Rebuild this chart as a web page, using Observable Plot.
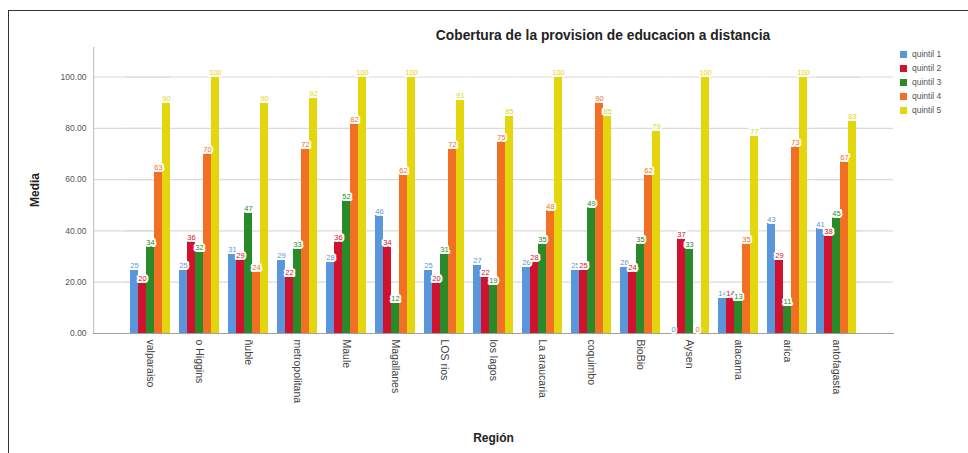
<!DOCTYPE html>
<html>
<head>
<meta charset="utf-8">
<script src="https://cdn.jsdelivr.net/npm/d3@7"></script>
<script src="https://cdn.jsdelivr.net/npm/@observablehq/plot@0.6"></script>
<style>
  body { margin: 0; background: #fff; font-family: "Liberation Sans", Arial, sans-serif; }
  #chart { position: relative; width: 968px; height: 453px; overflow: hidden; background: #fff; }
  #chart svg { position: absolute; left: 0; top: 0; }
  .edge-top { position: absolute; left: 8px; top: 10px; width: 960px; border-top: 1.5px solid #333; }
  .edge-left { position: absolute; left: 8px; top: 10px; height: 443px; border-left: 1.5px solid #333; }
  #title { position: absolute; left: 603px; top: 28px; transform: translateX(-50%); white-space: nowrap;
           font-weight: bold; font-size: 13.8px; color: #222; }
  #ylabel { position: absolute; left: 35px; top: 190px; transform: translate(-50%, -50%) rotate(-90deg);
            font-weight: bold; font-size: 12px; color: #222; white-space: nowrap; }
  #legend { position: absolute; left: 900px; top: 47px; font-size: 8.5px; color: #555; line-height: 14px; }
  #legend .row { display: flex; align-items: center; height: 14px; }
  #legend .sw { width: 7px; height: 7px; margin-right: 5px; }
</style>
</head>
<body>
<div id="chart">
  <div class="edge-top"></div>
  <div class="edge-left"></div>
  <div id="title">Cobertura de la provision de educacion a distancia</div>
  <div id="ylabel">Media</div>
  <div id="legend"></div>
</div>
<script>
// Regions along the horizontal axis
const regions = ["valparaiso", "o Higgins", "ñuble", "metropolitana", "Maule", "Magallanes", "LOS rios",
  "los lagos", "La araucaria", "coquimbo", "BioBio", "Aysen", "atacama", "arica", "antofagasta"];

// Series names (legend entries)
const quintiles = ["quintil 1", "quintil 2", "quintil 3", "quintil 4", "quintil 5"];

// Mean coverage per region, one array per quintile
const quintil1 = [25, 25, 31, 29, 28, 46, 25, 27, 26, 25, 26, 0, 14, 43, 41];
const quintil2 = [20, 36, 29, 22, 36, 34, 20, 22, 28, 25, 24, 37, 14, 29, 38];
const quintil3 = [34, 32, 47, 33, 52, 12, 31, 19, 35, 49, 35, 33, 13, 11, 45];
const quintil4 = [63, 70, 24, 72, 82, 62, 72, 75, 48, 90, 62, 0, 35, 73, 67];
const quintil5 = [90, 100, 90, 92, 100, 100, 91, 85, 100, 85, 79, 100, 77, 100, 83];

// Y axis tick values
const yTicks = [0, 20, 40, 60, 80, 100];
const gridTicks = [20, 40, 60, 80, 100];

const palette = ["#5a96dc", "#d1122f", "#298a2a", "#f27024", "#e3d60c"];

const series = [quintil1, quintil2, quintil3, quintil4, quintil5];
const data = regions.flatMap((region, i) =>
  quintiles.map((q, k) => ({region, quintil: q, value: series[k][i]})));

// Layout of the region bands (same settings as the fx scale below)
const W = 968, H = 453, mL = 89, mR = 71, mT = 47, mB = 120;
const padInner = 0.184, padOuter = 0.745;
const band = d3.scaleBand(regions, [mL, W - mR]).paddingInner(padInner).paddingOuter(padOuter);
const halfGap = (band.step() - band.bandwidth()) / 2;   // space between neighbouring regions
const outerGap = band(regions[0]) - mL;                 // space between frame edge and first region

// grid rows: each region covers its band plus half the gaps,
// the first and last also reach out to the frame edges
const firstRows = gridTicks.map(y => ({y, region: regions[0]}));
const lastRows = gridTicks.map(y => ({y, region: regions[regions.length - 1]}));
const gridColor = "#dadada";

const chart = Plot.plot({
  width: W,
  height: H,
  marginLeft: mL,
  marginRight: mR,
  marginTop: mT,
  marginBottom: mB,
  style: {fontFamily: "Liberation Sans, Arial, sans-serif", background: "transparent", overflow: "visible"},
  fx: {domain: regions, paddingInner: padInner, paddingOuter: padOuter, label: null},
  x: {domain: quintiles, padding: 0, axis: null},
  y: {domain: [0, 111.5], axis: null},
  color: {domain: quintiles, range: palette},
  marks: [
    Plot.ruleY(gridTicks, {stroke: gridColor, strokeWidth: 1.2, insetLeft: -halfGap, insetRight: -halfGap}),
    Plot.ruleY(firstRows, {fx: "region", y: "y", stroke: gridColor, strokeWidth: 1.2, insetLeft: -outerGap}),
    Plot.ruleY(lastRows, {fx: "region", y: "y", stroke: gridColor, strokeWidth: 1.2, insetRight: -outerGap}),
    Plot.frame({anchor: "left", facet: "super", insetLeft: -outerGap, stroke: "#c4c4c4", strokeWidth: 1.2}),
    Plot.barY(data, {fx: "region", x: "quintil", y: "value", fill: "quintil"}),
    Plot.frame({anchor: "bottom", facet: "super", insetLeft: -outerGap, insetRight: -outerGap,
      stroke: "#a0a0a0", strokeWidth: 1.2}),
    Plot.text(data, {
      fx: "region", x: "quintil", y: "value", text: d => String(d.value),
      fill: "quintil", stroke: "white", strokeWidth: 4, dy: -4, fontSize: 7.5
    }),
    Plot.axisY({ticks: yTicks, tickSize: 0, tickPadding: outerGap + 7, tickFormat: d => d.toFixed(2),
      fontSize: 8.5, fill: "#555", label: null}),
    Plot.axisFx({anchor: "bottom", tickSize: 0, tickPadding: 6, tickRotate: 90,
      fontSize: 10.5, fill: "#444", label: null}),
    Plot.text(["Región"], {frameAnchor: "bottom", dy: 108, text: d => d,
      fontWeight: "bold", fontSize: 12, fill: "#222", facet: "super"})
  ]
});

document.getElementById("chart").prepend(chart);

// legend
const legend = document.getElementById("legend");
quintiles.forEach((q, k) => {
  const row = document.createElement("div");
  row.className = "row";
  const sw = document.createElement("span");
  sw.className = "sw";
  sw.style.background = palette[k];
  const label = document.createElement("span");
  label.textContent = q;
  row.append(sw, label);
  legend.append(row);
});
</script>
</body>
</html>
